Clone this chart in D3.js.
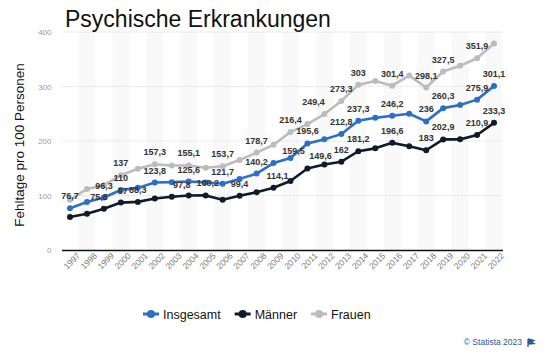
<!DOCTYPE html>
<html>
<head>
<meta charset="utf-8">
<script src="https://cdn.jsdelivr.net/npm/d3@7"></script>
<style>
  html, body { margin: 0; padding: 0; background: #fff; }
  svg { display: block; }
</style>
</head>
<body>
<svg id="chart" width="549" height="355"></svg>
<script>
// ---- data ----
const years = [1997,1998,1999,2000,2001,2002,2003,2004,2005,2006,2007,2008,2009,2010,2011,2012,2013,2014,2015,2016,2017,2018,2019,2020,2021,2022];
const insgesamt = [76.7,88,96.3,110,114,123.8,124.5,125.6,124,121.7,130.5,140.2,159.5,169,195.6,203,212.8,237.3,242.5,246.2,250,236,260.3,266,275.9,301.1];
const maenner = [60.5,66.5,75.8,87,88.3,94.5,97.8,100,100.2,92,99.4,106,114.1,126.5,149.6,157,162,181.2,186.5,196.6,190.5,183,202.9,203,210.9,233.3];
const frauen = [92,112,119,137,149,157.3,155,155.1,151,153.7,165,178.7,193,216.4,231,249.4,273.3,303,310,301.4,320,298.1,327.5,338,351.9,379];
const labelYearsInsgesamt = [1997,1999,2000,2002,2004,2006,2008,2009,2011,2013,2014,2016,2018,2019,2021,2022];
const labelYearsMaenner = [1999,2000,2001,2003,2005,2007,2009,2011,2013,2014,2016,2018,2019,2021,2022];
const labelYearsFrauen = [2000,2002,2004,2006,2008,2010,2012,2013,2014,2016,2018,2019,2021];
const yTicks = [0,100,200,300,400];
const title = "Psychische Erkrankungen";
const yTitle = "Fehltage pro 100 Personen";
const seriesNames = ["Insgesamt","Männer","Frauen"];

// ---- drawing ----
const svg = d3.select("#chart");
const colors = {"Insgesamt":"#2d6fc7","Männer":"#0f1b2b","Frauen":"#bcbcbc"};
const plotLeft = 61.5, plotRight = 502.5, plotTop = 32, plotBottom = 250;

const x = d3.scaleBand().domain(years).range([plotLeft, plotRight]).padding(0);
const y = d3.scaleLinear().domain([0,400]).range([plotBottom, plotTop]);
const cx = d => x(d) + x.bandwidth()/2;

// alternating bands
svg.append("g").selectAll("rect")
  .data(years.filter(yr => yr % 2 === 0))
  .join("rect")
  .attr("x", d => x(d)).attr("width", x.bandwidth())
  .attr("y", y(400)).attr("height", y(0) - y(400))
  .attr("fill", "#f9f9f9");

// gridlines
svg.append("g").selectAll("line")
  .data(yTicks.filter(t => t > 0))
  .join("line")
  .attr("x1", plotLeft).attr("x2", plotRight)
  .attr("y1", d => y(d)).attr("y2", d => y(d))
  .attr("stroke", "#d4d4d4").attr("stroke-width", 0.8)
  .attr("stroke-dasharray", "1.5,1.5");

// y axis labels
const yAxis = d3.axisLeft(y).tickValues(yTicks).tickSize(0).tickPadding(10);
const gy = svg.append("g").attr("transform", `translate(${plotLeft},0)`).call(yAxis);
gy.select(".domain").remove();
gy.selectAll("text").attr("font-family", "Liberation Sans, Arial, sans-serif")
  .attr("font-size", 8).attr("fill", "#9a9a9a");

// x axis
const xAxis = d3.axisBottom(x).tickSize(0).tickPadding(7);
const gx = svg.append("g").attr("transform", `translate(0,${plotBottom})`).call(xAxis);
gx.select(".domain").attr("stroke", "#111").attr("stroke-width", 1.6);
gx.selectAll("text")
  .attr("font-family", "Liberation Sans, Arial, sans-serif")
  .attr("font-size", 8.5).attr("fill", "#7a7a7a")
  .attr("text-anchor", "end")
  .attr("dx", "3").attr("dy", "5")
  .attr("transform", "rotate(-45)");

// series
const series = [
  {name:"Frauen", values: frauen, labels: labelYearsFrauen},
  {name:"Insgesamt", values: insgesamt, labels: labelYearsInsgesamt},
  {name:"Männer", values: maenner, labels: labelYearsMaenner}
];
const line = d3.line().x(d => cx(d.year)).y(d => y(d.v));
series.forEach(s => {
  const pts = years.map((yr,i) => ({year: yr, v: s.values[i]}));
  const g = svg.append("g");
  g.append("path").datum(pts).attr("d", line)
    .attr("fill", "none").attr("stroke", colors[s.name])
    .attr("stroke-width", 2.6).attr("stroke-linejoin", "round");
  g.selectAll("circle").data(pts).join("circle")
    .attr("cx", d => cx(d.year)).attr("cy", d => y(d.v)).attr("r", 3)
    .attr("fill", colors[s.name]);
});

// value labels
const shift = {"Männer-1999": -5, "Männer-2000": 2, "Männer-2003": 10, "Insgesamt-2009": 20,
               "Männer-2011": 13, "Frauen-2012": -11, "Männer-2009": 4, "Männer-2005": 2};
const fmt = v => String(v).replace(".", ",");
const lg = svg.append("g");
series.forEach(s => {
  s.labels.forEach(yr => {
    const i = years.indexOf(yr);
    const v = s.values[i];
    lg.append("text")
      .attr("x", cx(yr) + (shift[s.name + "-" + yr] || 0))
      .attr("y", y(v) - 9)
      .attr("text-anchor", "middle")
      .attr("font-family", "Liberation Sans, Arial, sans-serif")
      .attr("font-size", 9).attr("font-weight", "bold")
      .attr("fill", "#333")
      .text(fmt(v));
  });
});

// title
svg.append("text").attr("x", 65).attr("y", 27)
  .attr("font-family", "Liberation Sans, Arial, sans-serif")
  .attr("font-size", 23).attr("fill", "#111").text(title);

// y title
svg.append("text")
  .attr("transform", "translate(24,145) rotate(-90)")
  .attr("text-anchor", "middle")
  .attr("font-family", "Liberation Sans, Arial, sans-serif")
  .attr("font-size", 13.5).attr("fill", "#111").text(yTitle);

// legend
const legend = svg.append("g").attr("transform", "translate(143,314)");
let lx = 0;
seriesNames.forEach(name => {
  const item = legend.append("g").attr("transform", `translate(${lx},0)`);
  item.append("line").attr("x1", 0).attr("x2", 16).attr("y1", 0).attr("y2", 0)
    .attr("stroke", colors[name]).attr("stroke-width", 3);
  item.append("circle").attr("cx", 8).attr("cy", 0).attr("r", 4).attr("fill", colors[name]);
  const t = item.append("text").attr("x", 20).attr("y", 4.5)
    .attr("font-family", "Liberation Sans, Arial, sans-serif")
    .attr("font-size", 12.5).attr("fill", "#111").text(name);
  lx += 20 + t.node().getComputedTextLength() + 14;
});

// credit
svg.append("text").attr("x", 522).attr("y", 345).attr("text-anchor", "end")
  .attr("font-family", "Liberation Sans, Arial, sans-serif")
  .attr("font-size", 8.5).attr("fill", "#2c5a96").text("© Statista 2023");
svg.append("path").attr("d", "M528,339 L528,347 M528,339 L534,340.5 L531.5,342 L534,343.5 L528,344")
  .attr("stroke", "#2c5a96").attr("stroke-width", 1.3).attr("fill", "#2c5a96");
</script>
</body>
</html>
